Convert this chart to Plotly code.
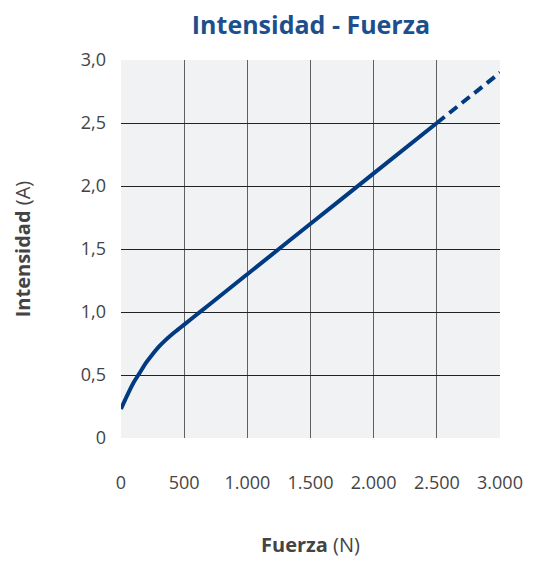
import plotly.graph_objects as go

# Data
fuerza_solid = [0, 50, 100, 150, 200, 250, 300, 350, 400, 450, 500, 600, 700, 1000, 1500, 2000, 2500]
intensidad_solid = [0.23, 0.34, 0.44, 0.52, 0.60, 0.665, 0.725, 0.775, 0.82, 0.86, 0.90,
                    0.98, 1.06, 1.30, 1.70, 2.10, 2.50]
fuerza_dash = [2500, 3000]
intensidad_dash = [2.50, 2.90]

x_ticks = [0, 500, 1000, 1500, 2000, 2500, 3000]
x_labels = ["0", "500", "1.000", "1.500", "2.000", "2.500", "3.000"]
y_ticks = [0, 0.5, 1.0, 1.5, 2.0, 2.5, 3.0]
y_labels = ["0", "0,5", "1,0", "1,5", "2,0", "2,5", "3,0"]

line_color = "#003a80"
font_family = "Open Sans"

# the page body adds an 8px offset; margins compensate for it
fig = go.Figure()
fig.add_trace(go.Scatter(x=fuerza_solid, y=intensidad_solid, mode="lines",
                         line=dict(color=line_color, width=4, shape="spline", smoothing=1.0),
                         showlegend=False, hoverinfo="skip"))
fig.add_trace(go.Scatter(x=fuerza_dash, y=intensidad_dash, mode="lines",
                         line=dict(color=line_color, width=4, dash="10px,6px"),
                         showlegend=False, hoverinfo="skip"))

fig.update_layout(
    width=539, height=561,
    margin=dict(l=113, r=47, t=52, b=131),
    paper_bgcolor="white",
    plot_bgcolor="#f1f2f4",
    font=dict(family=font_family, color="#444444", size=18),
    title=dict(text="<b>Intensidad - Fuerza</b>", x=0.562, xanchor="center",
               y=0.969, yanchor="middle",
               font=dict(family=font_family, size=25, color="#1d4f8c")),
    xaxis=dict(range=[0, 3000], tickvals=x_ticks, ticktext=x_labels,
               showgrid=True, gridcolor="#606060", gridwidth=1.2, zeroline=False,
               showline=False, ticks="", ticklabelstandoff=32, automargin=False,
               tickfont=dict(size=18, color="#444444"),
               title=dict(text="<b>Fuerza</b> (N)", standoff=44,
                          font=dict(size=20, color="#444444"))),
    yaxis=dict(range=[0, 3], tickvals=y_ticks, ticktext=y_labels,
               showgrid=True, gridcolor="#222222", gridwidth=1, zeroline=False,
               showline=False, ticks="", ticklabelstandoff=14, automargin=False,
               tickfont=dict(size=18, color="#444444"),
               title=dict(text="<b>Intensidad</b> (A)", standoff=44,
                          font=dict(size=20, color="#444444"))),
)

fig.write_html("out.html")
